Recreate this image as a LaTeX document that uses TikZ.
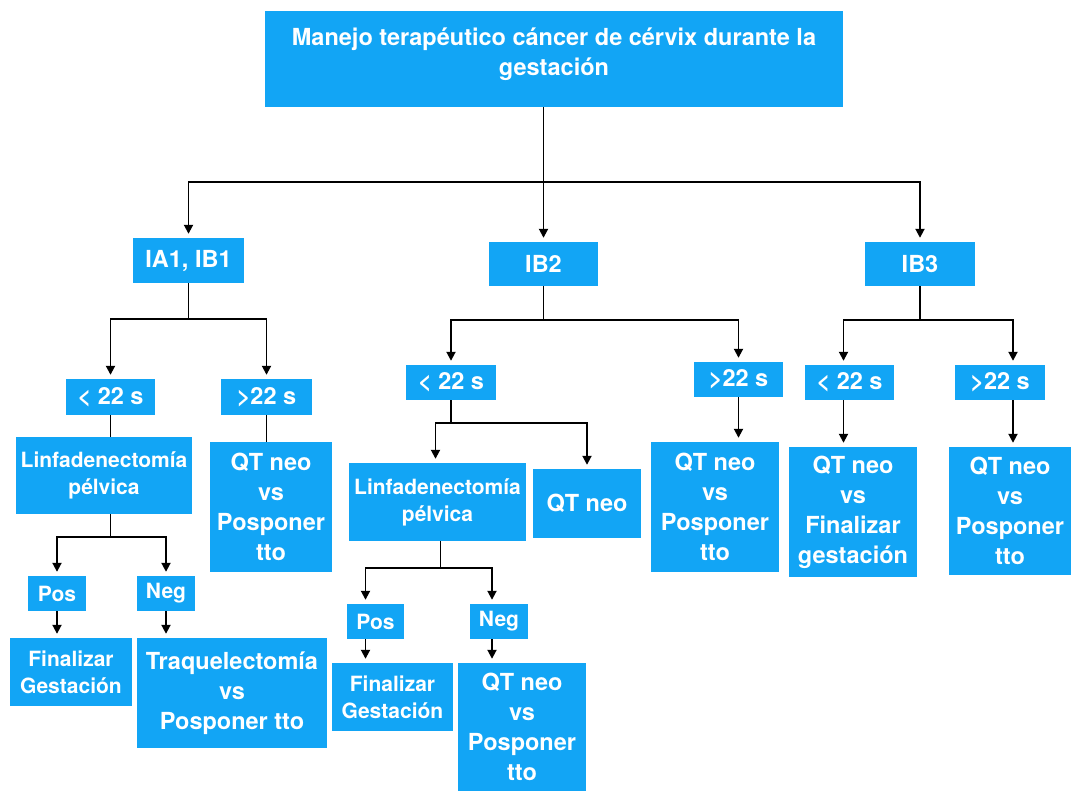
\documentclass[tikz,border=0pt]{standalone}
\usepackage{fontspec}
\setmainfont{TeX Gyre Heros}
\usetikzlibrary{arrows.meta}
\definecolor{cajazul}{RGB}{18,165,245}
\tikzset{
  caja/.style={fill=cajazul, text=white, align=center, inner sep=0pt,
    font=\bfseries\fontsize{23.5}{30}\selectfont},
  cajach/.style={caja, font=\bfseries\fontsize{21}{27}\selectfont},
  tam/.style 2 args={minimum width=#1pt, minimum height=#2pt},
  linea/.style={line width=1.9pt},
  flecha/.style={linea, -{Triangle[length=9pt,width=9pt]}, shorten >=4pt},
}

\begin{document}
\begin{tikzpicture}[x=1pt,y=-1pt]
    \useasboundingbox (0,0) rectangle (1074,791);
    % cabecera y estadios
    \node[caja, tam={578}{96}, text depth=15pt] (titulo) at (554,59) {Manejo terap\'eutico c\'ancer de c\'ervix durante la\\gestaci\'on};
    \node[caja, tam={111}{45}] (ia1) at (188.5,260.5) {IA1, IB1};
    \node[caja, tam={109}{44}] (ib2) at (543.5,264) {IB2};
    \node[caja, tam={110}{44}] (ib3) at (920,264) {IB3};
    \coordinate (bus0) at (543.5,182);
    % semanas
    \node[caja, tam={89}{36}] (a_lt) at (110.5,397) {< 22 s};
    \node[caja, tam={91}{36}] (a_gt) at (266.5,397) {>22 s};
    \node[caja, tam={90}{35}] (b_lt) at (451,382.5) {< 22 s};
    \node[caja, tam={89}{35}] (b_gt) at (738.5,379.5) {>22 s};
    \node[caja, tam={89}{35}] (c_lt) at (849.5,382.5) {< 22 s};
    \node[caja, tam={90}{35}] (c_gt) at (1000,382.5) {>22 s};
    % rama IA1, IB1
    \node[cajach, tam={176}{77}] (a_lin) at (104,475.5) {Linfadenectom\'ia\\p\'elvica};
    \node[caja, tam={122}{130}] (a_qt) at (271,507) {QT neo\\vs\\Posponer\\tto};
    \node[cajach, tam={58}{35}] (a_pos) at (57,593.5) {Pos};
    \node[cajach, tam={58}{35}] (a_neg) at (166,593.5) {Neg};
    \node[cajach, tam={122}{68}] (a_fin) at (71,672) {Finalizar\\Gestaci\'on};
    \node[caja, tam={190}{110}] (a_tra) at (232,693) {Traquelectom\'ia\\vs\\Posponer tto};
    % rama IB2
    \node[cajach, tam={177}{78}] (b_lin) at (437.5,502) {Linfadenectom\'ia\\p\'elvica};
    \node[caja, tam={108}{69}] (b_qt) at (587,503.5) {QT neo};
    \node[caja, tam={128}{130}] (b_qt3) at (715,507) {QT neo\\vs\\Posponer\\tto};
    \node[cajach, tam={57}{35}] (b_pos) at (375.5,621.5) {Pos};
    \node[cajach, tam={58}{35}] (b_neg) at (499,621.5) {Neg};
    \node[cajach, tam={121}{68}] (b_fin) at (392.5,697) {Finalizar\\Gestaci\'on};
    \node[caja, tam={128}{128}] (b_qt2) at (522,727) {QT neo\\vs\\Posponer\\tto};
    % rama IB3
    \node[caja, tam={128}{130}] (c_qt) at (853,512) {QT neo\\vs\\Finalizar\\gestaci\'on};
    \node[caja, tam={122}{128}] (c_qt2) at (1010,511) {QT neo\\vs\\Posponer\\tto};

    % conexiones
    \draw[linea] (titulo.south -| bus0) -- (bus0);
    \draw[flecha] (bus0) -| (ia1.north);
    \draw[flecha] (bus0) -- (ib2.north);
    \draw[flecha] (bus0) -| (ib3.north);

    \draw[flecha] (ia1.south) -- ++(0,36) -| (a_lt.north);
    \draw[flecha] (ia1.south) -- ++(0,36) -| (a_gt.north);
    \draw[linea] (a_lt.south) -- (a_lt.south |- a_lin.north);
    \draw[linea] (a_gt.south) -- (a_gt.south |- a_qt.north);
    \draw[flecha] (a_lin.south -| a_lt.south) -- ++(0,23) -| (a_pos.north);
    \draw[flecha] (a_lin.south -| a_lt.south) -- ++(0,23) -| (a_neg.north);
    \draw[flecha] (a_pos.south) -- (a_pos.south |- a_fin.north);
    \draw[flecha] (a_neg.south) -- (a_neg.south |- a_tra.north);

    \draw[flecha] (ib2.south) -- ++(0,34) -| (b_lt.north);
    \draw[flecha] (ib2.south) -- ++(0,34) -| (b_gt.north);
    \draw[flecha] (b_lt.south) -- ++(0,23) -| ([xshift=-2pt]b_lin.north);
    \draw[flecha] (b_lt.south) -- ++(0,23) -| (b_qt.north);
    \draw[flecha] (b_gt.south) -- (b_gt.south |- b_qt3.north);
    \draw[flecha] ([xshift=3pt]b_lin.south) -- ++(0,27) -| ([xshift=-10pt]b_pos.north);
    \draw[flecha] ([xshift=3pt]b_lin.south) -- ++(0,27) -| ([xshift=-7pt]b_neg.north);
    \draw[flecha] ([xshift=-10pt]b_pos.south) -- ([xshift=-10pt]b_pos.south |- b_fin.north);
    \draw[flecha] ([xshift=-7pt]b_neg.south) -- ([xshift=-7pt]b_neg.south |- b_qt2.north);

    \draw[flecha] (ib3.south) -- ++(0,34) -| ([xshift=-6pt]c_lt.north);
    \draw[flecha] (ib3.south) -- ++(0,34) -| ([xshift=13pt]c_gt.north);
    \draw[flecha] ([xshift=-6pt]c_lt.south) -- ([xshift=-6pt]c_lt.south |- c_qt.north);
    \draw[flecha] ([xshift=13pt]c_gt.south) -- ([xshift=13pt]c_gt.south |- c_qt2.north);
\end{tikzpicture}
\end{document}
